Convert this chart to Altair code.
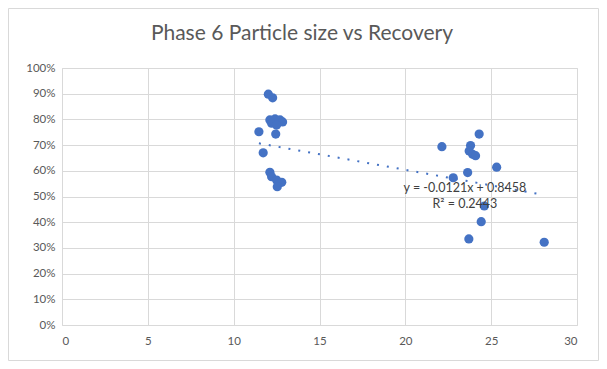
import altair as alt
import pandas as pd

# Particle size (x) and recovery (y)
size = [12.02, 12.27, 12.11, 12.41, 12.70, 12.85, 12.21, 12.50, 11.47, 12.45, 11.72,
        12.11, 12.21, 12.50, 12.80, 12.54,
        24.30, 22.13, 23.80, 23.72, 23.92, 24.09, 25.32, 23.63, 22.79,
        24.60, 24.42, 23.70, 28.09]
recovery = [0.898, 0.884, 0.798, 0.802, 0.798, 0.790, 0.785, 0.778, 0.752, 0.743, 0.670,
            0.594, 0.577, 0.564, 0.555, 0.538,
            0.743, 0.694, 0.698, 0.677, 0.664, 0.659, 0.614, 0.593, 0.573,
            0.463, 0.402, 0.335, 0.322]

title_text = ["Phase 6 Particle size vs Recovery"]
slope = -0.0121
intercept = 0.8458
label_lines = ["y = -0.0121x + 0.8458", "R\u00b2 = 0.2443"]
label_x = [23.47, 23.47]
label_y = [0.533, 0.472]

x_ticks = [0, 5, 10, 15, 20, 25, 30]
y_ticks = [0, 0.1, 0.2, 0.3, 0.4, 0.5, 0.6, 0.7, 0.8, 0.9, 1.0]

df = pd.DataFrame({"size": size, "recovery": recovery})
lab = pd.DataFrame({"text": label_lines, "x": label_x, "y": label_y})
tdf = pd.DataFrame({"t": title_text})

FONT = "Lato"
BLUE = "#4472c4"
GRID = "#d9d9d9"
LABEL = "#595959"

xscale = alt.Scale(domain=[0, 30], nice=False)
yscale = alt.Scale(domain=[0, 1], nice=False)

xaxis = alt.Axis(values=x_ticks, title=None, grid=True, gridColor=GRID, domain=False,
                 ticks=False, labelColor=LABEL, labelFont=FONT, labelFontSize=11.5,
                 labelPadding=10, labelOverlap=False)
yaxis = alt.Axis(values=y_ticks, format=".0%", title=None, grid=True, gridColor=GRID,
                 domain=False, ticks=False, labelColor=LABEL, labelFont=FONT,
                 labelFontSize=11.5, labelPadding=7, labelOverlap=False)

frame = alt.Chart(tdf).mark_rect(
    fill=None, stroke=GRID, strokeWidth=1
).encode(x=alt.value(-53.5), x2=alt.value(536.5), y=alt.value(-59.5), y2=alt.value(292.5))

title = alt.Chart(tdf).mark_text(
    font=FONT, fontSize=21, color=LABEL, align="center", baseline="middle"
).encode(x=alt.value(240), y=alt.value(-34), text="t:N")

points = alt.Chart(df).mark_circle(size=85, opacity=1, color=BLUE).encode(
    x=alt.X("size:Q", scale=xscale, axis=xaxis),
    y=alt.Y("recovery:Q", scale=yscale, axis=yaxis),
)

trend = alt.Chart(df).transform_aggregate(
    xmin="min(size)", xmax="max(size)"
).transform_fold(["xmin", "xmax"], as_=["k", "xv"]).transform_calculate(
    yv=f"{intercept} + ({slope}) * datum.xv"
).mark_line(color=BLUE, strokeWidth=2, strokeDash=[2, 8]).encode(
    x=alt.X("xv:Q", scale=xscale, axis=xaxis),
    y=alt.Y("yv:Q", scale=yscale, axis=yaxis),
)

labels = alt.Chart(lab).mark_text(
    font=FONT, fontSize=12.5, color="#404040", align="center", baseline="middle"
).encode(
    x=alt.X("x:Q", scale=xscale, axis=xaxis),
    y=alt.Y("y:Q", scale=yscale, axis=yaxis),
    text="text:N",
)

chart = alt.layer(frame, title, points, trend, labels).properties(
    width=515,
    height=257,
    autosize=alt.AutoSizeParams(type="none"),
    padding={"left": 54, "top": 60, "right": 22, "bottom": 36},
).configure_view(stroke=None).configure(background="white")

chart.save("out.html", embed_options={"renderer": "svg", "actions": False})
